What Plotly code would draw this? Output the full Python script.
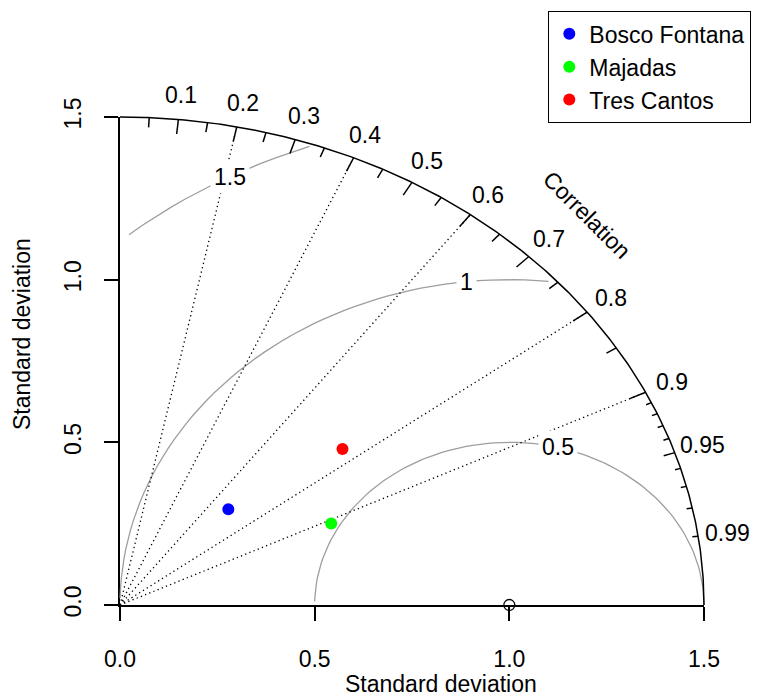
import numpy as np
import plotly.graph_objects as go

# ---- data ----
stations = ["Bosco Fontana", "Majadas", "Tres Cantos"]
station_sd = [0.405, 0.5975, 0.746]
station_cor = [0.687, 0.908, 0.766]
station_colors = ["#0000FF", "#00FF00", "#FF0000"]

ref_sd = 1.0
max_sd = 1.5
sd_ticks = [0.0, 0.5, 1.0, 1.5]
sd_tick_labels = ["0.0", "0.5", "1.0", "1.5"]
cor_big = [0.1, 0.2, 0.3, 0.4, 0.5, 0.6, 0.7, 0.8, 0.9]
cor_med = [0.05, 0.15, 0.25, 0.35, 0.45, 0.55, 0.65, 0.75, 0.85, 0.95]
cor_small = [0.91, 0.92, 0.93, 0.94, 0.96, 0.97, 0.98, 0.99]
cor_labels = [0.1, 0.2, 0.3, 0.4, 0.5, 0.6, 0.7, 0.8, 0.9, 0.95, 0.99]
cor_label_text = ["0.1", "0.2", "0.3", "0.4", "0.5", "0.6", "0.7", "0.8", "0.9", "0.95", "0.99"]
cor_lines = [0.2, 0.4, 0.6, 0.8, 0.9]
rms_levels = [0.5, 1.0, 1.5]
rms_label_idx = [44, 56, 69]

FONT = "Liberation Sans, Arial, Helvetica, sans-serif"
FS = 23
GRAY = "#9E9E9E"
W, H = 769, 696
OFF = 8  # page body margin
# pixel frame (page pixels) of the 0..1.5 quadrant
PX0, PX1, PY0, PY1 = 120, 704, 605, 117
sx = (PX1 - PX0) / max_sd
sy = (PY0 - PY1) / max_sd
x2_range = [(OFF - PX0) / sx, (W + OFF - PX0) / sx]
y2_range = [(PY0 - (H + OFF)) / sy, (PY0 - OFF) / sy]


def px(p):
    return (p - OFF) / W


def py(q):
    return 1 - (q - OFF) / H


fig = go.Figure()
A2 = dict(xaxis="x2", yaxis="y2")

# centred RMS difference arcs
theta = np.arange(0, np.pi, 0.03)
rms_label_pos = []
for g, li in zip(rms_levels, rms_label_idx):
    xc = np.cos(theta) * g + ref_sd
    yc = np.sin(theta) * g
    neg = np.where(xc < 0)[0]
    end = neg.min() - 1 if len(neg) else len(xc) - 1
    out = np.where(xc * xc + yc * yc > max_sd * max_sd)[0]
    start = out.max() + 1 if len(out) else 0
    fig.add_trace(go.Scatter(x=xc[start:end + 1], y=yc[start:end + 1], mode="lines",
                             line=dict(color=GRAY, width=1.3), showlegend=False,
                             hoverinfo="skip", **A2))
    rms_label_pos.append((xc[li], yc[li], ("%g" % g)))

# dotted correlation rays
rx, ry = [], []
for c in cor_lines:
    rx += [0, max_sd * c, None]
    ry += [0, max_sd * np.sqrt(1 - c * c), None]
fig.add_trace(go.Scatter(x=rx, y=ry, mode="lines",
                         line=dict(color="black", width=1.3, dash="1.3px,3.2px"),
                         showlegend=False, hoverinfo="skip", **A2))

# outer arc
phi = np.linspace(0, np.pi / 2, 300)
fig.add_trace(go.Scatter(x=max_sd * np.cos(phi), y=max_sd * np.sin(phi), mode="lines",
                         line=dict(color="black", width=1.5), showlegend=False,
                         hoverinfo="skip", **A2))

# tick marks on arc
tx, ty = [], []
for vals, frac in ((cor_big, 0.97), (cor_med, 0.98), (cor_small, 0.99)):
    for c in vals:
        s = np.sqrt(1 - c * c)
        tx += [max_sd * c, frac * max_sd * c, None]
        ty += [max_sd * s, frac * max_sd * s, None]
fig.add_trace(go.Scatter(x=tx, y=ty, mode="lines", line=dict(color="black", width=1.5),
                         showlegend=False, hoverinfo="skip", **A2))

# reference point (on the primary, visible axes)
fig.add_trace(go.Scatter(x=[ref_sd], y=[0], mode="markers", cliponaxis=False,
                         marker=dict(symbol="circle-open", size=11, color="black",
                                     line=dict(width=1.3)),
                         showlegend=False, hoverinfo="skip"))

# stations
for name, sd, cr, col in zip(stations, station_sd, station_cor, station_colors):
    fig.add_trace(go.Scatter(x=[sd * cr], y=[sd * np.sqrt(1 - cr * cr)], mode="markers",
                             name=name, cliponaxis=False,
                             marker=dict(size=12, color=col), **A2))

ann = []
for c, t in zip(cor_labels, cor_label_text):
    ann.append(dict(x=1.05 * max_sd * c, y=1.05 * max_sd * np.sqrt(1 - c * c), text=t,
                    xref="x2", yref="y2", showarrow=False,
                    font=dict(size=FS, color="black", family=FONT)))
for x, y, t in rms_label_pos:
    ann.append(dict(x=x, y=y, text=t, xref="x2", yref="y2", showarrow=False,
                    bgcolor="white", borderpad=3,
                    font=dict(size=FS, color="black", family=FONT)))
ann.append(dict(x=0.8 * max_sd, y=0.8 * max_sd, text="Correlation", textangle=45,
                xref="x2", yref="y2", showarrow=False,
                font=dict(size=FS, color="black", family=FONT)))
ann.append(dict(x=px(441), y=py(684), text="Standard deviation", xref="paper",
                yref="paper", showarrow=False, xanchor="center", yanchor="middle",
                font=dict(size=FS, color="black", family=FONT)))
ann.append(dict(x=px(22), y=py(334), text="Standard deviation", xref="paper",
                yref="paper", showarrow=False, textangle=-90,
                xanchor="center", yanchor="middle",
                font=dict(size=FS, color="black", family=FONT)))

axis_common = dict(range=[0, max_sd], tickvals=sd_ticks, ticktext=sd_tick_labels,
                   showgrid=False, zeroline=False, showline=True, linecolor="black",
                   linewidth=1.5, ticks="outside", ticklen=14, tickwidth=1.5,
                   tickcolor="black", automargin=False, fixedrange=True,
                   tickfont=dict(size=FS, color="black", family=FONT))
hidden = dict(visible=False, showgrid=False, zeroline=False, automargin=False,
              fixedrange=True, domain=[0, 1])

fig.update_layout(
    width=W, height=H,
    margin=dict(l=0, r=0, t=0, b=0, autoexpand=False),
    paper_bgcolor="white", plot_bgcolor="rgba(0,0,0,0)",
    xaxis=dict(domain=[px(PX0), px(PX1)], ticklabelstandoff=19, **axis_common),
    yaxis=dict(domain=[py(PY0), py(PY1)], tickangle=-90, ticklabelstandoff=14,
               **axis_common),
    xaxis2=dict(range=x2_range, anchor="y2", **hidden),
    yaxis2=dict(range=y2_range, anchor="x2", **hidden),
    annotations=ann,
    showlegend=True,
    legend=dict(x=px(548), y=py(11), xanchor="left", yanchor="top",
                bordercolor="black", borderwidth=1.3, bgcolor="white",
                font=dict(size=FS, color="black", family=FONT),
                itemsizing="constant", entrywidth=180, entrywidthmode="pixels"),
    font=dict(family=FONT, size=FS, color="black"),
)

fig.write_html("out.html")
